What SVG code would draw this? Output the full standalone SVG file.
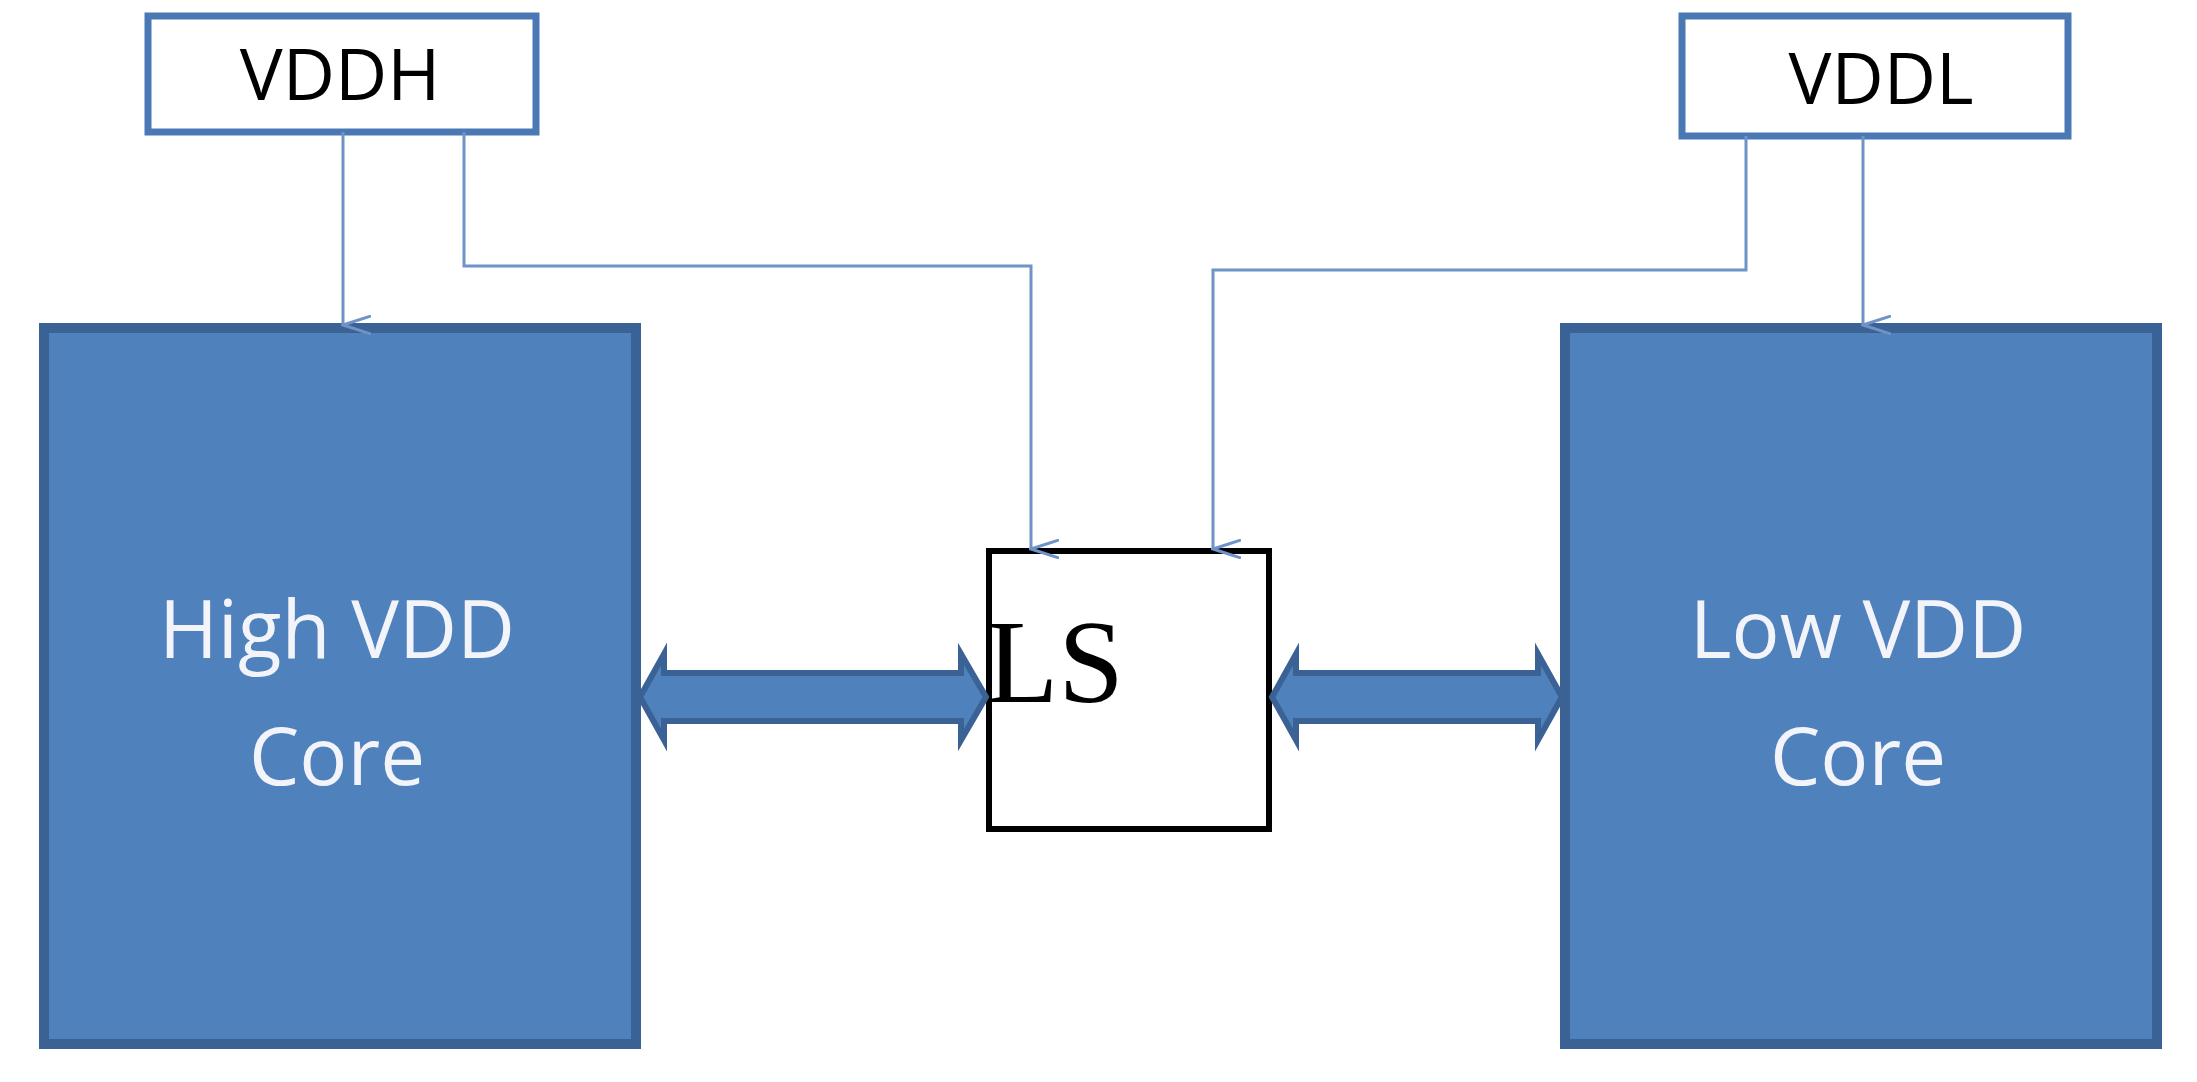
<svg xmlns="http://www.w3.org/2000/svg" width="2197" height="1082" viewBox="0 0 2197 1082">
<style>
.core{fill:#4f81bd;stroke:#3a6294;stroke-width:10}
.vdd{fill:#fff;stroke:#4a78b4;stroke-width:7}
.ct{font-family:"Open Sans","Liberation Sans",sans-serif;font-size:80px;fill:#f2f4fa;text-anchor:middle}
.vt{font-family:"Open Sans","Liberation Sans",sans-serif;font-size:72px;fill:#000;text-anchor:middle}
.wire{fill:none;stroke:#6f93c8;stroke-width:3}
.big{fill:#4f81bd;stroke:#3a6294;stroke-width:6}
</style>
<defs>
<marker id="v" viewBox="0 0 20 30" refX="10" refY="28" markerWidth="20" markerHeight="30" markerUnits="userSpaceOnUse" orient="auto-start-reverse">
<path d="M1,0 L10,28 L19,0" fill="none" stroke="#6f93c8" stroke-width="3"/>
</marker>
</defs>
<rect width="2197" height="1082" fill="#fff"/>
<g id="vddh"><rect class="vdd" x="148" y="16" width="388" height="116"/><text class="vt" x="340" y="100">VDDH</text></g>
<g id="vddl"><rect class="vdd" x="1682" y="16" width="386" height="120"/><text class="vt" x="1881" y="104">VDDL</text></g>
<g id="high"><rect class="core" x="44" y="328" width="592" height="716"/><text class="ct" x="337" y="658">High VDD</text><text class="ct" x="337" y="785">Core</text></g>
<g id="low"><rect class="core" x="1565" y="328" width="592" height="716"/><text class="ct" x="1858" y="658">Low VDD</text><text class="ct" x="1858" y="785">Core</text></g>
<g id="ls"><rect x="989" y="551" width="280" height="278" fill="#fff" stroke="#000" stroke-width="6"/><text x="1055" y="702" font-family="'Liberation Serif',serif" font-size="118" text-anchor="middle">LS</text></g>
<g id="connectors">
<path class="wire" d="M343,132 V325" marker-end="url(#v)"/>
<path class="wire" d="M464,132 V266 H1031 V549" marker-end="url(#v)"/>
<path class="wire" d="M1746,136 V270 H1213 V549" marker-end="url(#v)"/>
<path class="wire" d="M1863,136 V325" marker-end="url(#v)"/>
<path class="big" d="M640,697 L664,654 V673 H961 V654 L986,697 L961,740 V721 H664 V740 Z"/>
<path class="big" d="M1272,697 L1296,654 V673 H1538 V654 L1562,697 L1538,740 V721 H1296 V740 Z"/>
</g>
</svg>
